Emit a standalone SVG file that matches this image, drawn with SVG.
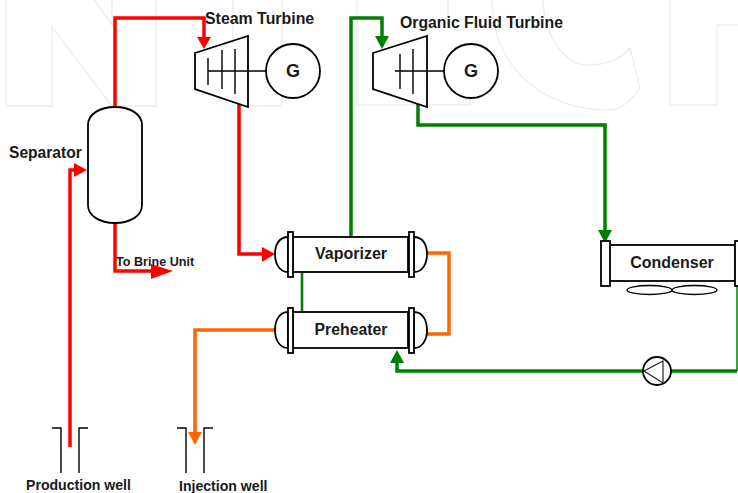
<svg xmlns="http://www.w3.org/2000/svg" width="738" height="493" viewBox="0 0 738 493">
<style>
text{font-family:"Liberation Sans",Arial,sans-serif;font-weight:bold;fill:#1a1a1a}
.eq{fill:#fff;stroke:#000;stroke-width:1.8}
.thin{fill:none;stroke:#000;stroke-width:1.4}
.wm{fill:none;stroke:#eee;stroke-width:1.5}
.p{fill:none;stroke-linejoin:miter}
.red{stroke:#f00;stroke-width:3.5}
.grn{stroke:#008000;stroke-width:3.5}
.org{stroke:#f60;stroke-width:3.5}
</style>
<g id="watermark">
<path class="wm" d="M6 -2V106H52V27L112 106H156V-2M93 -2L112 25V-2"/>
<path class="wm" d="M233 -2V106H282V-2"/>
<path class="wm" d="M357 -2V105H470V88M448 -2V20"/>
<path class="wm" d="M492 -2C492 70 545 110 610 110C620 110 632 100 640 88L630 48C620 60 605 65 587 65C565 65 543 35 543 -2"/>
<path class="wm" d="M670 -2V105H717V25H738"/>
</g>
<g id="connectors">
<path class="p red" d="M115 107V18H204V38"/><polygon fill="#f00" points="197,37 211,37 204,49"/>
<path class="p red" d="M239 103V254H262"/><polygon fill="#f00" points="262,247 262,262 275,254"/>
<path class="p red" d="M70 447V170H75"/><polygon fill="#f00" points="74,163 74,177 87,170"/>
<path class="p red" d="M115 223V271H152"/><polygon fill="#f00" points="151,264 151,279 173,271"/>
<path class="p grn" d="M351 237V18H382V37"/><polygon fill="#008000" points="375,36 389,36 382,49"/>
<path class="p grn" d="M418 103V125H605V231"/><polygon fill="#008000" points="598,230 612,230 605,243"/>
<path fill="none" stroke="#008000" stroke-width="2.6" d="M302 272V313"/>
<path class="p grn" d="M397 362V371H643M671 371H737"/><polygon fill="#008000" points="390,363 404,363 397,350"/>
<path fill="none" stroke="#008000" stroke-width="1.5" d="M737 286V371"/>
<path class="p org" d="M426 253H449V334H426"/>
<path class="p org" d="M275 330H195V433"/><polygon fill="#f60" points="188,432 202,432 195,445"/>
</g>
<g id="separator">
<path class="eq" d="M88 125C88 114 100 107 115 107S142 114 142 125V205C142 216 130 223 115 223S88 216 88 205Z"/>
<text x="9" y="158" font-size="15.6">Separator</text>
</g>
<g id="steam-turbine">
<polygon class="eq" points="195,53 248,36 248,107 195,89"/>
<path class="thin" d="M208 58V85M222 50V89M235 49V94M208 71H266"/>
<circle class="eq" cx="293" cy="71" r="27"/>
<text x="293" y="77" font-size="18" text-anchor="middle">G</text>
<text x="205" y="24" font-size="15.9">Steam Turbine</text>
</g>
<g id="organic-turbine">
<polygon class="eq" points="373,53 427,36 427,107 373,89"/>
<path class="thin" d="M400 54V89M413 49V94M395 71H445"/>
<circle class="eq" cx="471" cy="71" r="27"/>
<text x="471" y="77" font-size="18" text-anchor="middle">G</text>
<text x="400" y="28" font-size="15.8">Organic Fluid Turbine</text>
</g>
<g id="vaporizer">
<path class="eq" d="M288 237C279 237 275 245 275 254S279 272 288 272Z"/>
<path class="eq" d="M414 237C423 237 427 245 427 254S423 272 414 272Z"/>
<rect class="eq" x="293" y="237" width="115" height="35"/>
<rect class="eq" x="288" y="232" width="5" height="45"/>
<rect class="eq" x="409" y="232" width="5" height="45"/>
<text x="351" y="259" font-size="16" text-anchor="middle">Vaporizer</text>
</g>
<g id="preheater">
<path class="eq" d="M288 312C279 312 275 321 275 330S279 348 288 348Z"/>
<path class="eq" d="M414 312C423 312 427 321 427 330S423 348 414 348Z"/>
<rect class="eq" x="293" y="312" width="115" height="36"/>
<rect class="eq" x="288" y="308" width="5" height="45"/>
<rect class="eq" x="409" y="308" width="5" height="45"/>
<text x="351" y="335" font-size="15.8" text-anchor="middle">Preheater</text>
</g>
<g id="condenser">
<rect class="eq" x="609" y="245" width="126" height="36"/>
<rect class="eq" x="601" y="241" width="9" height="45"/>
<rect class="eq" x="735" y="241" width="9" height="45"/>
<ellipse class="thin" cx="649.5" cy="290" rx="22.5" ry="4.5"/>
<ellipse class="thin" cx="694.5" cy="290" rx="22.5" ry="4.5"/>
<text x="672" y="268" font-size="16" text-anchor="middle">Condenser</text>
</g>
<g id="pump">
<circle class="eq" cx="657" cy="371" r="14"/>
<path fill="none" stroke="#222" stroke-width="1.2" d="M644 371L663 361V383Z"/>
</g>
<g id="brine-label"><text x="116" y="266" font-size="12.6">To Brine Unit</text></g>
<g id="production-well">
<path class="thin" d="M52 428H61V473M88 428H79V473"/>
<text x="26" y="490" font-size="14.1">Production well</text>
</g>
<g id="injection-well">
<path class="thin" d="M177 428H186V473M213 428H204V473"/>
<text x="179" y="491" font-size="14.1">Injection well</text>
</g>
</svg>
